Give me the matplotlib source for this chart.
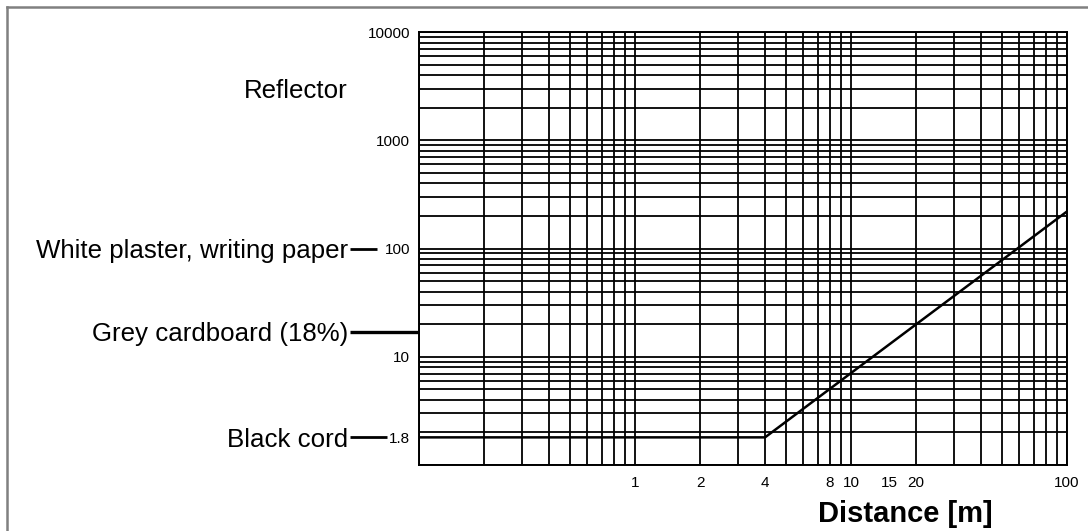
import numpy as np
import matplotlib.pyplot as plt
from matplotlib.ticker import LogLocator, NullFormatter
from matplotlib.transforms import blended_transform_factory
from matplotlib.lines import Line2D

plt.rcParams['font.family'] = ['Liberation Sans', 'DejaVu Sans']

# Reflectance curve
distance = [0.1, 4, 100]
reflect = [1.8, 1.8, 220]

# Axis labels
x_ticks = [1, 2, 4, 8, 10, 15, 20, 100]
x_tick_labels = ['1', '2', '4', '8', '10', '15', '20', '100']
y_ticks = [1.8, 10, 100, 1000, 10000]
y_tick_labels = ['1.8', '10', '100', '1000', '10000']

# Surfaces written at the left of the grid
surfaces = ['Reflector', 'White plaster, writing paper', 'Grey cardboard (18%)', 'Black cord']
surface_values = [3000, 100, 17, 1.8]

fig = plt.figure(figsize=(10.88, 5.31), dpi=100)
ax = fig.add_axes([0.3851, 0.1243, 0.5956, 0.8154])

ax.set_xscale('log')
ax.set_yscale('log')
ax.set_xlim(0.1, 100)
ax.set_ylim(1, 10000)

# Full log grid, every 1..9 in each decade
for axis in (ax.xaxis, ax.yaxis):
    axis.set_minor_locator(LogLocator(base=10, subs=np.arange(1, 10), numticks=60))
    axis.set_minor_formatter(NullFormatter())
    axis.remove_overlapping_locs = False
ax.grid(True, which='minor', color='black', lw=1.3)

ax.set_xticks(x_ticks)
ax.set_xticklabels(x_tick_labels)
ax.set_yticks(y_ticks)
ax.set_yticklabels(y_tick_labels)
ax.tick_params(which='both', length=0, labelsize=11)
ax.tick_params(axis='x', pad=8)
ax.tick_params(axis='y', pad=6.5)
for s in ax.spines.values():
    s.set_linewidth(1.4)

ax.plot(distance, reflect, color='black', lw=1.8)

ax.set_xlabel('Distance [m]', fontsize=21, fontweight='bold')
ax.xaxis.set_label_coords(0.75, -0.08)

# Left side labels with their leader dashes
trans = blended_transform_factory(ax.transAxes, ax.transData)
dash_ends = [None, -0.0648, 0.0, -0.0500]
dash_widths = [0, 2.0, 2.4, 2.0]
for name, val, end, lw in zip(surfaces, surface_values, dash_ends, dash_widths):
    ax.text(-0.1096, val, name, transform=trans, ha='right', va='center_baseline', fontsize=18.6)
    if end is not None:
        ax.plot([-0.1065, end], [val, val], transform=trans, color='black', lw=lw,
                clip_on=False, solid_capstyle='butt')

# Grey page frame at top and left
fig.add_artist(Line2D([7 / 1088, 7 / 1088], [0, 1 - 7 / 531], transform=fig.transFigure,
                      color='#808080', lw=1.8))
fig.add_artist(Line2D([7 / 1088, 1], [1 - 7 / 531, 1 - 7 / 531], transform=fig.transFigure,
                      color='#808080', lw=1.8))

fig.savefig('out.png', dpi=100)
